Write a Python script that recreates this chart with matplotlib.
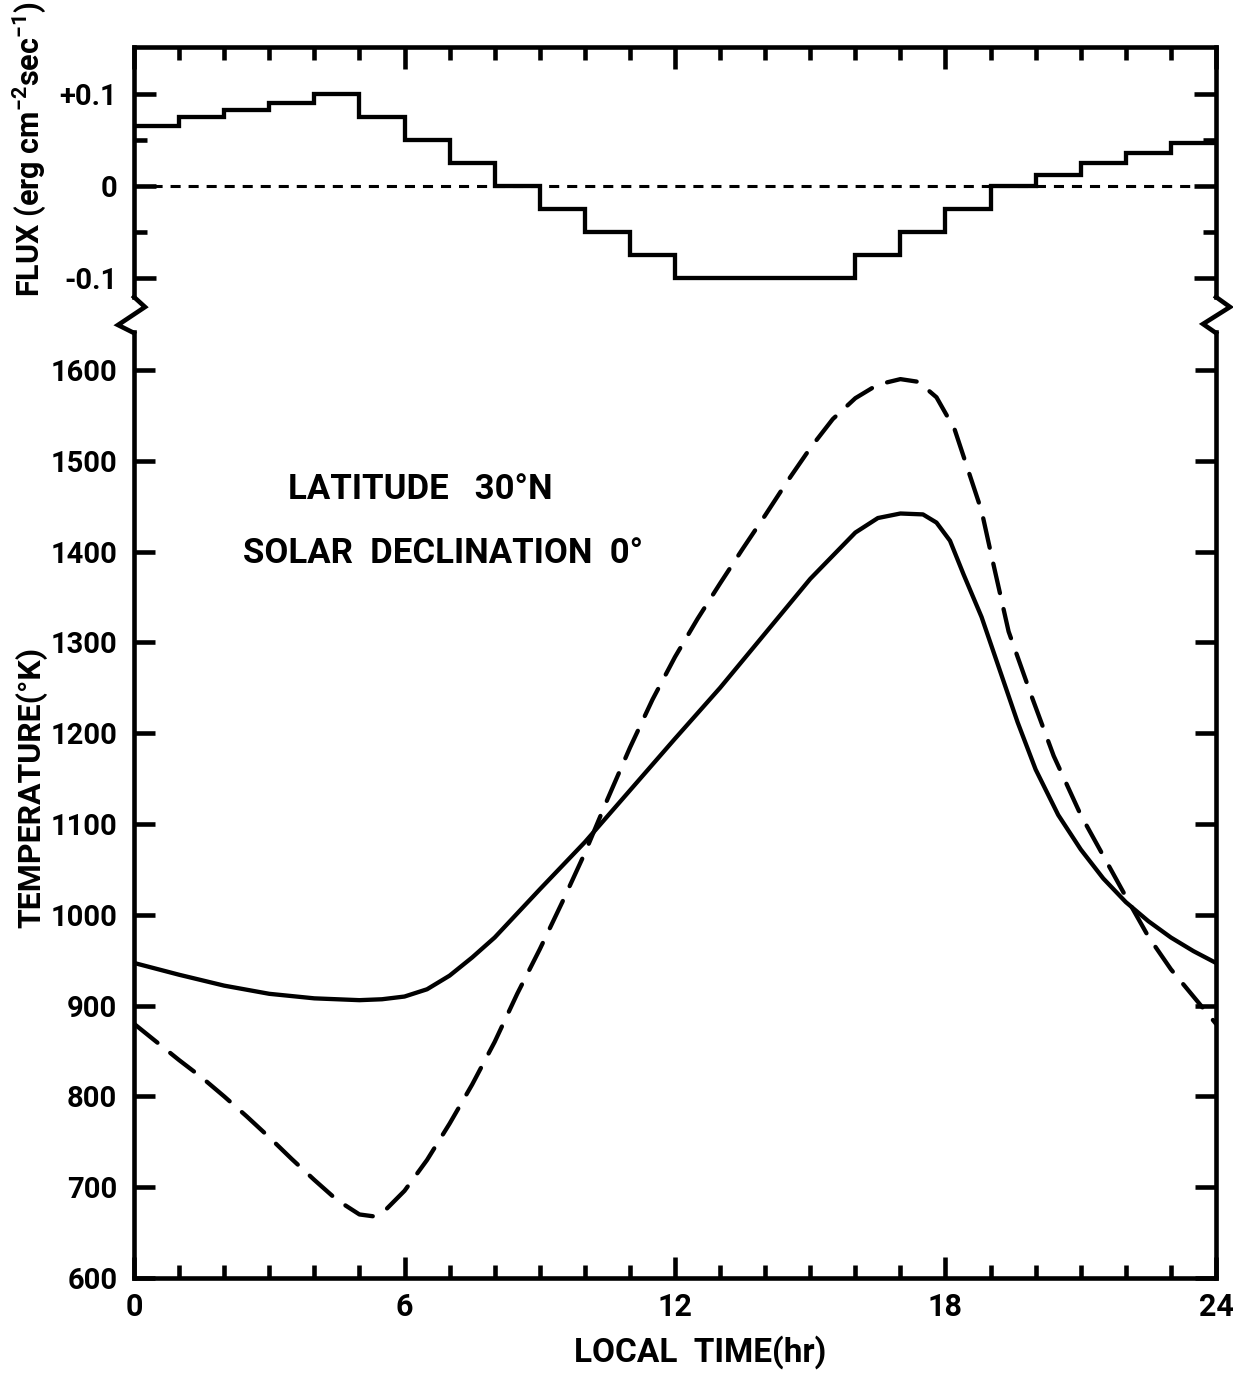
import numpy as np
import matplotlib
matplotlib.use("Agg")
import matplotlib.pyplot as plt
from matplotlib.lines import Line2D
from matplotlib.ticker import FixedLocator, FixedFormatter, MultipleLocator

plt.rcParams['font.family'] = ['Roboto', 'DejaVu Sans']
plt.rcParams['font.weight'] = 'bold'
plt.rcParams['mathtext.fontset'] = 'custom'
plt.rcParams['mathtext.rm'] = 'Roboto:bold'
plt.rcParams['mathtext.default'] = 'rm'

# ---------------- data ----------------
flux_edges = list(range(0, 25))
flux_values = [0.065, 0.075, 0.083, 0.090, 0.100, 0.075, 0.050, 0.025, 0.000,
               -0.025, -0.050, -0.075, -0.100, -0.100, -0.100, -0.100, -0.075,
               -0.050, -0.025, 0.000, 0.012, 0.025, 0.036, 0.047]

solid_hours = [0, 1, 2, 3, 4, 5, 5.5, 6, 6.5, 7, 7.5, 8, 9, 10, 11, 12, 13, 14,
               15, 16, 16.5, 17, 17.5, 17.8, 18.1, 18.4, 18.8, 19.2, 19.6, 20,
               20.5, 21, 21.5, 22, 22.5, 23, 23.5, 24]
solid_temp = [947, 934, 922, 913, 908, 906, 907, 910, 918, 933, 953, 975, 1028,
              1080, 1137, 1194, 1250, 1310, 1370, 1421, 1437, 1442, 1441, 1432,
              1412, 1375, 1328, 1270, 1212, 1160, 1110, 1072, 1040, 1014, 993,
              975, 960, 947]

dashed_hours = [0, 0.5, 1, 1.5, 2, 2.5, 3, 3.5, 4, 4.5, 5, 5.3, 5.6, 6, 6.5, 7,
                7.5, 8, 8.5, 9, 9.5, 10, 10.5, 11, 11.5, 12, 12.5, 13, 13.5, 14,
                14.5, 15, 15.5, 16, 16.5, 17, 17.4, 17.8, 18.2, 18.5, 18.8, 19,
                19.4, 19.9, 20.4, 21, 21.5, 22, 22.5, 23, 23.5, 24]
dashed_temp = [880, 860, 840, 821, 800, 778, 755, 731, 708, 686, 670, 668, 676,
               696, 730, 770, 813, 860, 913, 962, 1014, 1068, 1127, 1184, 1237,
               1284, 1326, 1365, 1403, 1440, 1478, 1514, 1546, 1569, 1584, 1590,
               1587, 1570, 1535, 1490, 1445, 1400, 1312, 1242, 1175, 1110, 1065,
               1020, 976, 940, 910, 880]

flux_ticks = [0.1, 0.0, -0.1]
flux_ticklabels = ['+0.1', '0', '-0.1']
flux_minor = [0.05, -0.05]
temp_ticks = list(range(600, 1700, 100))
time_ticks = [0, 6, 12, 18, 24]
time_ticklabels = ['0', '6', '12', '18', '24']

# ---------------- figure ----------------
W, H = 1233, 1374
fig = plt.figure(figsize=(W / 100, H / 100), dpi=100)
fig.patch.set_facecolor('white')

def fx(px):
    return px / W

def fy(py):
    return 1 - py / H

left, right = 134, 1216
ax1 = fig.add_axes([fx(left), fy(297), fx(right) - fx(left), fy(47) - fy(297)])
ax2 = fig.add_axes([fx(left), fy(1278), fx(right) - fx(left), fy(332) - fy(1278)])

SPW = 3.3
LW = 3.1
tick_fs = 21

for ax in (ax1, ax2):
    for s in ax.spines.values():
        s.set_linewidth(SPW)
    ax.set_xlim(0, 24)

# top panel
ax1.stairs(flux_values, flux_edges, color='black', linewidth=LW, baseline=None)
ax1.axhline(0, color='black', linewidth=2.2, linestyle=(0, (3.3, 2.6)))
ax1.set_ylim(-0.1207, 0.151)
ax1.spines['bottom'].set_visible(False)
ax1.yaxis.set_major_locator(FixedLocator(flux_ticks))
ax1.yaxis.set_major_formatter(FixedFormatter(flux_ticklabels))
ax1.yaxis.set_minor_locator(FixedLocator(flux_minor))
ax1.xaxis.set_major_locator(MultipleLocator(6))
ax1.xaxis.set_minor_locator(MultipleLocator(1))
ax1.tick_params(axis='x', which='both', direction='in', top=True, bottom=False,
                labeltop=False, labelbottom=False)
ax1.tick_params(axis='x', which='major', length=16, width=SPW)
ax1.tick_params(axis='x', which='minor', length=9.5, width=SPW)
ax1.tick_params(axis='y', which='both', direction='in', left=True, right=True,
                labelsize=tick_fs, pad=12)
ax1.tick_params(axis='y', which='major', length=16, width=SPW)
ax1.tick_params(axis='y', which='minor', length=9.5, width=SPW)

# bottom panel
ax2.plot(solid_hours, solid_temp, color='black', linewidth=LW,
         solid_capstyle='round', solid_joinstyle='round')
ax2.plot(dashed_hours, dashed_temp, color='black', linewidth=LW,
         linestyle=(0, (7.0, 3.8)), dash_capstyle='round')
ax2.set_ylim(600, 1641.9)
ax2.spines['top'].set_visible(False)
ax2.yaxis.set_major_locator(FixedLocator(temp_ticks))
ax2.xaxis.set_major_locator(FixedLocator(time_ticks))
ax2.xaxis.set_major_formatter(FixedFormatter(time_ticklabels))
ax2.xaxis.set_minor_locator(MultipleLocator(1))
ax2.tick_params(axis='x', which='both', direction='in', top=False, bottom=True,
                labelsize=tick_fs + 1, pad=10)
ax2.tick_params(axis='x', which='major', length=15, width=SPW)
ax2.tick_params(axis='x', which='minor', length=9.5, width=SPW)
ax2.tick_params(axis='y', which='both', direction='in', left=True, right=True,
                labelsize=tick_fs, pad=12, length=15, width=SPW)

ax2.text(6.34, 1468, 'LATITUDE   30°N', fontsize=25, ha='center', va='center')
ax2.text(6.85, 1398, 'SOLAR  DECLINATION  0°', fontsize=25, ha='center', va='center')

# axis labels
fig.text(fx(700), fy(1352), 'LOCAL  TIME(hr)', fontsize=24, ha='center', va='center')
fig.text(fx(31), fy(787), 'TEMPERATURE(°K)', fontsize=23, rotation=90,
         ha='center', va='center')
fig.text(fx(29), fy(149), r'FLUX (erg cm$^{-2}$sec$^{-1}$)', fontsize=22,
         rotation=90, ha='center', va='center')

# axis-break zigzags
for pts in ([(134, 297), (145, 307), (118, 325), (134, 333)],
            [(1216, 297), (1230, 307), (1203, 324), (1216, 333)]):
    xs = [fx(p[0]) for p in pts]
    ys = [fy(p[1]) for p in pts]
    fig.add_artist(Line2D(xs, ys, transform=fig.transFigure, color='black',
                          linewidth=SPW, solid_joinstyle='miter'))

fig.savefig('out.png', dpi=100, facecolor='white')
